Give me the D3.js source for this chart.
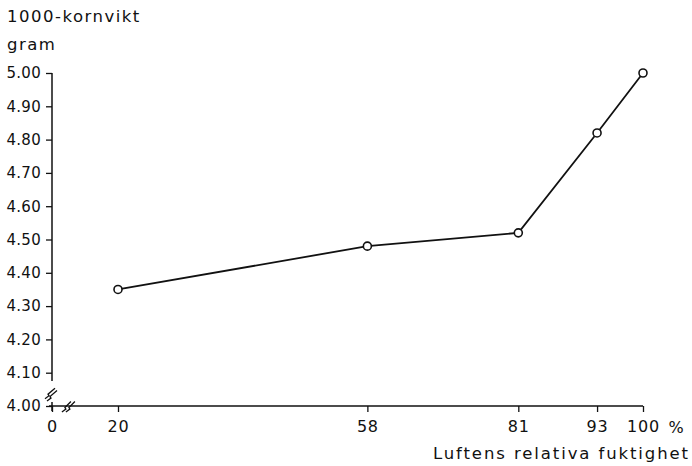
<!DOCTYPE html>
<html><head><meta charset="utf-8">
<script src="https://cdn.jsdelivr.net/npm/d3@7"></script>
<style>
html,body{margin:0;padding:0;background:#fff;}
svg text{font-family:"DejaVu Sans",sans-serif;fill:#111;}
</style></head>
<body><svg id="c" width="692" height="466"></svg>
<script>
const humidity = [20, 58, 81, 93, 100];
const grainWeight = [4.35, 4.48, 4.52, 4.82, 5.00];
const xTickValues = [0, 20, 58, 81, 93, 100];
const yTickValues = [4.00, 4.10, 4.20, 4.30, 4.40, 4.50, 4.60, 4.70, 4.80, 4.90, 5.00];
const yTitle1 = "1000-kornvikt";
const yTitle2 = "gram";
const xTitle = "Luftens relativa fuktighet";

const svg = d3.select("#c");
const x = d3.scaleLinear().domain([0, 20, 100]).range([52, 118, 643]);
const y = d3.scaleLinear().domain([4.0, 5.0]).range([406, 73]);

const ink = "#111";
// y axis
const yAx = svg.append("g").attr("transform", `translate(${x(0)},0)`)
  .call(d3.axisLeft(y).tickValues(yTickValues).tickFormat(d3.format(".2f")).tickSize(6).tickPadding(5));
yAx.select(".domain").remove();
yAx.selectAll("line").attr("stroke", ink).attr("stroke-width", 1.3);
yAx.selectAll("text").attr("font-size", 15).attr("letter-spacing", 0.3).attr("fill", ink).style("font-family", "DejaVu Sans");
svg.append("line").attr("x1", x(0)).attr("x2", x(0)).attr("y1", y(5.0)).attr("y2", y(4.075))
  .attr("stroke", ink).attr("stroke-width", 1.5);
svg.append("line").attr("x1", x(0)).attr("x2", x(0)).attr("y1", y(4.012)).attr("y2", y(4.0) + 5)
  .attr("stroke", ink).attr("stroke-width", 1.5);
// y break symbol
[0, 4].forEach(o => {
  svg.append("path")
    .attr("d", `M${x(0) - 7 + o * 0.5},${y(4.04) + 6 + o * 0.6} l4,-3 l-1,-1.5 l7,-6`)
    .attr("fill", "none").attr("stroke", ink).attr("stroke-width", 1.3);
});

// x axis
const xAx = svg.append("g").attr("transform", `translate(0,${y(4.0)})`)
  .call(d3.axisBottom(x).tickValues(xTickValues).tickFormat(d3.format("d")).tickSize(6).tickPadding(9));
xAx.select(".domain").remove();
xAx.selectAll("line").attr("stroke", ink).attr("stroke-width", 1.3);
xAx.selectAll("text").attr("font-size", 16).attr("letter-spacing", 0.8).attr("fill", ink).style("font-family", "DejaVu Sans");
svg.append("line").attr("x1", x(0) - 3).attr("x2", x(100)).attr("y1", y(4.0)).attr("y2", y(4.0))
  .attr("stroke", ink).attr("stroke-width", 1.5);
// x break symbol
[0, 4].forEach(o => {
  svg.append("path")
    .attr("d", `M${x(3) + o},${y(4.0) + 6} l4,-3 l-1,-1.5 l6,-6`)
    .attr("fill", "none").attr("stroke", ink).attr("stroke-width", 1.3);
});

// % sign
svg.append("text").attr("x", 676).attr("y", y(4.0) + 27).attr("text-anchor", "middle")
  .attr("font-size", 16).text("%");

// titles
svg.append("text").attr("x", 7).attr("y", 22).attr("font-size", 16.5).attr("letter-spacing", 1.5).text(yTitle1);
svg.append("text").attr("x", 7).attr("y", 50).attr("font-size", 16.5).attr("letter-spacing", 1.5).text(yTitle2);
svg.append("text").attr("x", 690).attr("y", 459).attr("text-anchor", "end")
  .attr("font-size", 16.5).attr("letter-spacing", 1.9).text(xTitle);

// line + markers
const pts = humidity.map((h, i) => [h, grainWeight[i]]);
svg.append("path").datum(pts)
  .attr("d", d3.line().x(d => x(d[0])).y(d => y(d[1])))
  .attr("fill", "none").attr("stroke", ink).attr("stroke-width", 1.8);
svg.selectAll("circle.m").data(pts).enter().append("circle")
  .attr("cx", d => x(d[0])).attr("cy", d => y(d[1])).attr("r", 4)
  .attr("fill", "#fff").attr("stroke", ink).attr("stroke-width", 1.6);
</script></body></html>
